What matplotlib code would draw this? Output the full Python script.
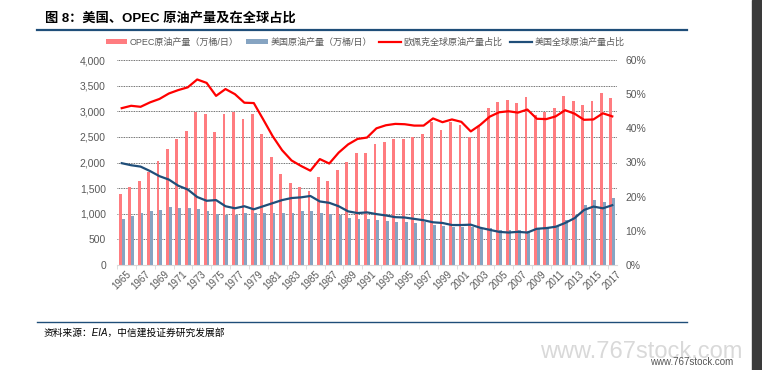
import numpy as np
import matplotlib
matplotlib.use('Agg')
import matplotlib.pyplot as plt
from matplotlib.ticker import FuncFormatter, FixedLocator
from matplotlib.patches import Rectangle
from matplotlib.lines import Line2D

plt.rcParams['font.family'] = ['Liberation Sans', 'Noto Sans CJK SC', 'DejaVu Sans']

# data
years = list(range(1965, 2018))
opec = [1390, 1530, 1630, 1820, 2030, 2260, 2450, 2620, 2990, 2950, 2600, 2940, 2990,
        2840, 2950, 2550, 2110, 1780, 1600, 1520, 1440, 1710, 1630, 1860, 2010, 2180,
        2190, 2370, 2400, 2450, 2460, 2490, 2560, 2800, 2630, 2800, 2730, 2500, 2720,
        3060, 3180, 3210, 3170, 3270, 2930, 2990, 3060, 3290, 3200, 3120, 3200, 3350, 3250]
us = [900, 960, 1010, 1060, 1080, 1130, 1120, 1120, 1100, 1050, 1000, 970, 980,
      1010, 1010, 1010, 1010, 1010, 1010, 1045, 1060, 1010, 1000, 970, 915, 890,
      900, 880, 850, 840, 830, 820, 830, 785, 760, 750, 750, 750, 705,
      720, 680, 680, 680, 655, 720, 750, 765, 870, 980, 1175, 1270, 1235, 1305]
opec_share = [45.9, 46.6, 46.3, 47.6, 48.6, 50.2, 51.2, 52.0, 54.3, 53.3, 49.5, 51.5, 50.0,
              47.5, 47.4, 42.6, 37.7, 33.6, 30.6, 29.0, 27.6, 31.0, 29.7, 32.9, 35.3, 36.9,
              37.3, 40.0, 40.9, 41.3, 41.2, 40.8, 40.8, 42.9, 41.8, 42.6, 41.9, 39.1, 41.0,
              43.4, 44.7, 45.0, 44.6, 45.5, 42.8, 42.7, 43.5, 45.3, 44.3, 42.5, 42.6, 44.4, 43.5]
us_share = [29.8, 29.2, 28.8, 27.5, 26.0, 25.0, 23.2, 22.1, 19.9, 18.8, 19.0, 17.2, 16.6,
            17.2, 16.3, 17.2, 18.1, 19.0, 19.6, 19.8, 20.2, 18.6, 18.2, 17.2, 15.7, 15.2,
            15.4, 14.9, 14.5, 14.0, 13.9, 13.5, 13.1, 12.5, 12.3, 11.7, 11.7, 11.8, 10.9,
            10.3, 9.7, 9.5, 9.7, 9.5, 10.6, 10.8, 11.2, 12.3, 13.7, 16.1, 17.1, 16.6, 17.5]

labels = ['OPEC原油产量（万桶/日）', '美国原油产量（万桶/日）',
          '欧佩克全球原油产量占比', '美国全球原油产量占比']

c_opec = '#FF7C80'
c_us = '#86A4C2'
c_line1 = '#FF0000'
c_line2 = '#1F4E79'
grey = '#595959'

fig = plt.figure(figsize=(7.62, 3.70), dpi=100)

# title, frame lines, source and watermark
fig.text(45 / 762, 1 - 18 / 370, '图 8：美国、OPEC 原油产量及在全球占比',
         fontsize=9.5, fontweight='bold', ha='left', va='center')
fig.add_artist(Line2D([37 / 762, 687 / 762], [1 - 30 / 370] * 2, color=c_line2, lw=1.6))
fig.add_artist(Line2D([37 / 762, 687 / 762], [1 - 322 / 370] * 2, color=c_line2, lw=1.0))
fig.text(44 / 762, 1 - 333 / 370, '资料来源：EIA，中信建投证券研究发展部',
         fontsize=7, style='italic', ha='left', va='center')
fig.text(540 / 762, 1 - 352 / 370, 'www.767stock.com', fontsize=17,
         color='#d9d9d9', ha='left', va='center')
fig.text(650 / 762, 1 - 362 / 370, 'www.767stock.com', fontsize=7,
         color='#555555', ha='left', va='center')
fig.add_artist(Rectangle((752 / 762, 0), 10 / 762, 1, color='#3a3a3a',
                         transform=fig.transFigure))

ax = fig.add_axes([117 / 762, 1 - 265 / 370, 500 / 762, 205 / 370])
x = np.arange(len(years))
w = 0.3
b1 = ax.bar(x - 0.15, opec, width=w, color=c_opec, zorder=2, label=labels[0])
b2 = ax.bar(x + 0.15, us, width=w, color=c_us, zorder=2, label=labels[1])
ax.set_xlim(-0.5, len(years) - 0.5)
ax.set_ylim(0, 4000)
ax.set_yticks(np.arange(0, 4001, 500))
ax.yaxis.set_major_formatter(FuncFormatter(lambda v, p: '{:,.0f}'.format(v)))
ax.grid(axis='y', color='#404040', linestyle=(0, (1, 1)), linewidth=0.6, zorder=0)
ax.set_axisbelow(True)

ax.set_xticks(x[::2])
ax.set_xticklabels([str(y) for y in years[::2]], rotation=45, ha='center',
                   fontsize=7, color=grey)
ax.xaxis.set_minor_locator(FixedLocator(np.arange(-0.5, len(years), 2)))
ax.tick_params(axis='x', which='major', length=0, pad=3)
ax.tick_params(axis='x', which='minor', length=3, color='#D9D9D9')
ax.tick_params(axis='y', length=0, labelsize=7.5, labelcolor=grey, pad=8)
for s in ['top', 'right', 'left']:
    ax.spines[s].set_visible(False)
ax.spines['bottom'].set_color('#D9D9D9')

ax2 = ax.twinx()
l1, = ax2.plot(x, opec_share, color=c_line1, lw=1.6, label=labels[2])
l2, = ax2.plot(x, us_share, color=c_line2, lw=1.6, label=labels[3])
ax2.set_ylim(0, 60)
ax2.set_yticks(np.arange(0, 61, 10))
ax2.yaxis.set_major_formatter(FuncFormatter(lambda v, p: '{:.0f}%'.format(v)))
ax2.tick_params(axis='y', length=0, labelsize=7.5, labelcolor=grey, pad=6)
for s in ['top', 'right', 'left', 'bottom']:
    ax2.spines[s].set_visible(False)

fig.legend([b1, b2, l1, l2], labels, loc='center', ncol=4,
           bbox_to_anchor=(365 / 762, 1 - 42 / 370), frameon=False,
           fontsize=6.5, labelcolor=grey, handlelength=2.4, handleheight=0.5,
           columnspacing=0.8, handletextpad=0.3)

fig.savefig('out.png', dpi=100)
